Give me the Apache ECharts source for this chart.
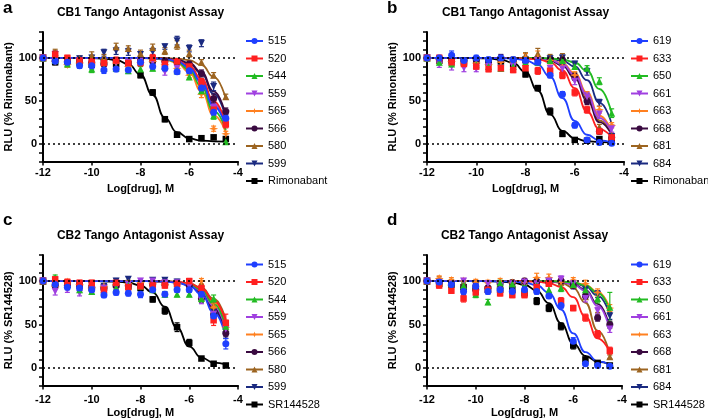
<!DOCTYPE html>
<html><head><meta charset="utf-8">
<script src="https://cdn.jsdelivr.net/npm/echarts@6/dist/echarts.min.js"></script>
<style>html,body{margin:0;padding:0;background:#fff}#c{width:708px;height:420px}</style>
</head><body><div id="c"></div>
<script>
// ---------- DATA ----------
const X = [-12,-11.5,-11,-10.5,-10,-9.5,-9,-8.5,-8,-7.5,-7,-6.5,-6,-5.5,-5,-4.5];
const yLabelVals = [0,50,100];

const namesA = ['515','520','544','559','565','566','580','599','Rimonabant'];
const ptsA = [
 [100,96,95,91,91,86,87,86,95,90,88,84,85,65,37,30],
 [100,104,100,97,96,94,97,94,94,100,93,96,90,72,40,23],
 [100,97,93,95,87,88,88,85,87,88,90,85,78,62,33,3],
 [100,96,97,96,94,93,95,95,96,96,84,88,86,70,42,25],
 [100,96,92,94,93,95,94,90,95,96,92,88,80,58,18,12],
 [100,97,96,95,95,93,97,94,97,96,96,95,93,82,53,38],
 [100,106,97,99,103,101,113,111,105,112,108,115,105,95,80,55],
 [100,104,97,99,100,106,108,107,104,107,113,120,111,117,67,35],
 [100,95,96,95,92,95,93,93,80,60,29,11,6,7,8,6]
];
const errA = [
 [2,3,3,3,4,4,3,4,3,3,3,3,3,4,4,4],
 [2,4,3,3,4,3,4,4,3,4,3,3,4,4,4,4],
 [2,3,3,3,4,3,3,3,3,3,3,3,3,4,4,3],
 [2,3,3,3,3,3,3,3,3,3,4,3,3,4,4,3],
 [2,3,3,3,3,3,3,3,3,3,3,3,3,4,3,3],
 [2,3,3,3,3,3,3,3,3,3,3,3,3,4,5,4],
 [2,4,3,3,4,3,4,3,4,4,4,5,4,3,3,3],
 [2,4,3,3,3,4,4,4,3,4,3,5,4,4,5,4],
 [2,3,3,3,3,3,3,3,3,3,3,2,2,2,2,2]
];
const fitA = [
 [100,100,100,100,100,100,100,100,99.9,99.6,98.8,96.2,88.8,71.5,44.3,20.1],
 [100,100,100,100,100,100,100,100,99.9,99.7,99.0,96.9,90.9,76.0,50.0,24.0],
 [100,100,100,100,100,100,100,99.9,99.8,99.5,98.4,95.2,86.3,66.6,38.7,16.6],
 [100,100,100,100,100,100,100,100,99.9,99.6,98.9,96.6,89.9,73.8,47.1,22.0],
 [100,100,100,100,100,100,100,99.9,99.8,99.4,98.0,94.1,83.4,61.3,33.4,13.7],
 [100,100,100,100,100,100,100,100,100,99.8,99.4,98.0,94.1,83.4,61.3,33.4],
 [100,100,100,100,100,100,100,100,100,99.9,99.7,99.1,97.3,91.8,78.0,52.9],
 [100,100,100,100,100,100,100,100,100,99.8,99.3,97.8,93.4,81.7,58.5,30.9],
 [100,100,100,99.9,99.8,99.2,97.6,92.8,80.5,57.0,30.6,13.9,6.7,4.2,3.4,3.1]
];

const namesB = ['619','633','650','661','663','668','681','684','Rimonabant'];
const ptsB = [
 [100,100,103,97,100,98,100,98,97,95,80,58,22,5,2,1],
 [100,100,95,93,90,87,88,86,88,85,85,80,60,40,15,8],
 [100,95,93,95,92,90,88,90,95,95,97,97,90,88,73,36],
 [100,92,90,88,87,90,88,90,93,97,88,87,73,55,35,18],
 [100,98,96,94,94,92,95,95,100,100,97,95,80,57,40,22],
 [100,98,98,97,98,97,99,97,96,98,98,98,78,50,15,8],
 [100,97,95,96,97,95,100,98,103,105,100,100,79,55,20,10],
 [100,98,97,97,98,96,98,97,98,98,99,100,93,84,48,9],
 [100,97,97,96,97,95,96,93,81,65,38,12,5,4,6,4]
];
const errB = [
 [2,3,5,3,3,3,3,3,3,3,3,3,3,2,2,2],
 [2,3,3,3,3,3,3,3,3,4,4,4,4,4,3,3],
 [2,3,3,3,3,3,3,3,3,3,3,3,3,3,4,5],
 [2,3,4,4,3,3,3,3,3,3,3,3,4,5,5,4],
 [2,3,3,3,3,3,3,3,5,8,4,4,4,4,4,3],
 [2,3,3,3,3,3,5,3,3,3,4,5,4,4,3,3],
 [2,3,3,3,3,3,3,3,3,6,4,5,4,4,3,3],
 [2,3,3,3,3,3,3,3,3,3,3,3,3,4,4,3],
 [2,3,3,3,3,3,3,3,3,3,4,3,2,2,2,2]
];
const fitB = [
 [100,100,100,100,100,99.9,99.7,99.1,97.3,91.9,78.2,53.4,26.9,11.0,4.4,2.1],
 [100,100,100,100,100,100,99.9,99.8,99.4,98.4,94.9,85.4,65.1,37.9,17.6,8.1],
 [100,100,100,100,100,100,100,100,100,99.8,99.4,98.3,94.7,84.9,64.0,36.0],
 [100,100,100,100,100,100,100,99.9,99.8,99.2,97.6,92.8,80.5,57.0,30.6,13.9],
 [100,100,100,100,100,100,100,99.9,99.8,99.3,97.9,93.6,82.2,59.7,33.0,15.0],
 [100,100,100,100,100,100,100,99.9,99.7,99.0,97.0,91.1,76.5,51.0,25.5,10.9],
 [100,100,100,100,100,100,100,99.9,99.7,99.1,97.4,92.0,78.4,53.8,27.7,11.9],
 [100,100,100,100,100,100,100,100,99.9,99.7,98.9,96.7,90.1,74.3,48.2,23.6],
 [100,100,100,99.9,99.8,99.4,98.0,94.2,83.7,62.1,34.7,15.4,6.7,3.5,2.5,2.2]
];

const namesC = ['515','520','544','559','565','566','580','599','SR144528'];
const ptsC = [
 [100,96,93,92,90,84,87,86,85,90,85,90,90,85,60,28],
 [100,102,99,98,98,90,98,93,94,95,95,97,100,92,55,52],
 [100,104,97,90,88,90,92,95,94,90,85,85,85,80,80,48],
 [100,88,90,86,90,92,94,96,100,100,98,98,94,78,62,45],
 [100,94,99,96,92,94,96,97,98,97,96,97,97,100,70,47],
 [100,95,95,95,93,92,95,95,96,96,96,97,95,80,62,40],
 [100,96,97,95,96,93,97,98,97,98,99,97,98,97,72,50],
 [100,97,96,96,95,94,100,102,97,101,101,99,96,88,65,38],
 [100,97,96,96,92,93,96,94,92,79,66,47,29,11,5,3]
];
const errC = [
 [3,4,3,3,4,3,3,3,4,3,3,3,3,4,5,6],
 [3,3,3,3,3,3,3,3,3,3,3,3,3,4,6,10],
 [3,3,3,3,3,3,3,3,3,3,3,3,3,4,4,5],
 [3,4,3,3,3,3,3,3,3,3,3,3,3,4,4,4],
 [3,3,3,3,3,3,3,3,3,3,3,3,3,3,4,4],
 [3,3,3,3,3,3,3,3,3,3,3,3,3,5,4,4],
 [3,3,3,3,3,3,3,3,3,3,3,3,3,3,4,5],
 [3,3,3,3,3,3,3,3,3,3,3,3,3,4,4,4],
 [3,3,3,3,3,3,3,3,3,3,4,5,4,2,2,2]
];
const fitC = [
 [100,100,100,100,100,100,100,100,100,99.8,99.4,98.3,94.7,84.9,64.0,36.0],
 [100,100,100,100,100,100,100,100,100,100,99.7,99.1,97.3,91.8,78.0,52.9],
 [100,100,100,100,100,100,100,100,100,99.9,99.6,98.9,96.6,89.9,73.8,47.1],
 [100,100,100,100,100,100,100,100,100,99.9,99.6,98.8,96.2,88.8,71.5,44.3],
 [100,100,100,100,100,100,100,100,100,99.9,99.7,99.0,96.9,90.9,76.0,50.0],
 [100,100,100,100,100,100,100,100,100,99.9,99.6,98.6,95.7,87.6,69.1,41.5],
 [100,100,100,100,100,100,100,100,100,100,99.7,99.2,97.5,92.6,79.9,55.7],
 [100,100,100,100,100,100,100,100,100,99.8,99.5,98.4,95.2,86.3,66.6,38.7],
 [100,100,100,100,100,99.8,99.3,98.2,95.0,87.0,70.5,46.5,24.7,12.0,6.4,4.2]
];

const namesD = ['619','633','650','661','663','668','681','684','SR144528'];
const ptsD = [
 [100,99,96,88,94,88,90,88,90,88,83,72,31,5,3,2],
 [100,95,89,80,87,90,86,84,84,93,97,77,69,58,39,20],
 [100,98,97,95,85,76,98,97,92,95,90,92,96,90,80,70],
 [100,98,97,100,93,97,95,97,99,97,100,102,97,80,66,45],
 [100,103,101,100,99,98,100,98,99,104,104,99,101,97,87,69],
 [100,98,95,92,90,92,97,98,100,99,98,100,95,83,58,50],
 [100,102,99,97,96,95,96,98,100,100,98,99,95,82,60,13],
 [100,99,93,88,95,90,88,90,97,98,99,98,94,90,85,60],
 [100,97,96,93,92,90,90,90,86,77,69,48,26,10,6,3]
];
const errD = [
 [3,3,3,4,3,3,3,3,3,3,3,3,4,2,2,2],
 [3,3,3,4,3,3,3,3,3,3,3,4,3,4,4,4],
 [3,3,3,3,4,3,3,3,3,3,4,4,3,4,5,17],
 [3,3,3,3,3,3,3,3,3,3,3,4,3,4,4,4],
 [3,3,3,3,3,3,3,3,3,5,4,4,3,4,4,4],
 [3,3,3,3,3,3,3,3,3,3,3,3,3,4,4,4],
 [3,3,3,3,3,3,3,3,3,3,3,3,3,3,4,2],
 [3,3,3,3,3,3,3,3,3,3,3,3,3,4,4,4],
 [3,3,3,3,3,3,3,3,3,4,4,4,4,2,2,2]
];
const fitD = [
 [100,100,100,100,100,99.9,99.8,99.5,98.4,95.3,86.6,67.3,39.9,18.3,7.8,4.0],
 [100,100,100,100,100,100,100,99.9,99.8,99.3,97.7,93.2,81.5,59.2,34.2,18.3],
 [100,100,100,100,100,100,100,100,100,100,99.8,99.5,98.4,95.2,86.3,66.6],
 [100,100,100,100,100,100,100,100,100,99.9,99.6,98.8,96.2,88.8,71.5,44.3],
 [100,100,100,100,100,100,100,100,100,100,99.9,99.6,98.6,95.7,87.6,69.1],
 [100,100,100,100,100,100,100,100,100,99.9,99.6,98.9,96.6,89.9,73.8,47.1],
 [100,100,100,100,100,100,100,100,100,99.9,99.5,98.0,92.3,75.1,43.1,16.0],
 [100,100,100,100,100,100,100,100,100,100,99.8,99.4,98.0,94.1,83.4,61.3],
 [100,100,100,100,100,99.8,99.4,98.4,95.8,89.1,74.6,51.5,28.4,13.9,7.2,4.6]
];

// ---------- STYLE ----------
const colors = ['#1f3fff','#ff2020','#22bb22','#a040e0','#ff8020','#3a0a40','#9c6420','#1a2a80','#000000'];
const star = 'path://M0,-10 L2.5,-2.5 L10,0 L2.5,2.5 L0,10 L-2.5,2.5 L-10,0 L-2.5,-2.5 Z';
const symbols = ['circle','rect','triangle','triangle',star,'circle','triangle','triangle','rect'];
const rotates = [0,0,0,180,0,0,0,180,0];
const sizes = [7,6.5,7,7,9,7,7,7,6.5];
const FONT = 'Liberation Sans, Arial, Helvetica, sans-serif';

const panels = [
 {names:namesA, pts:ptsA, err:errA, fit:fitA, title:'CB1 Tango Antagonist Assay', letter:'a', yName:'RLU (% Rimonabant)',
  grid:{left:43, top:32, width:195, height:129.5}, yGap:28, xMargin:6, legend:{left:245, top:34}, lx:3, ly:8},
 {names:namesB, pts:ptsB, err:errB, fit:fitB, title:'CB1 Tango Antagonist Assay', letter:'b', yName:'RLU (% Rimonabant)',
  grid:{left:427, top:32, width:197, height:129.5}, yGap:23, xMargin:6, legend:{left:630, top:34}, lx:387, ly:8},
 {names:namesC, pts:ptsC, err:errC, fit:fitC, title:'CB2 Tango Antagonist Assay', letter:'c', yName:'RLU (% SR144528)',
  grid:{left:43, top:255, width:195, height:130.5}, yGap:28, xMargin:9, legend:{left:245, top:257.5}, lx:3, ly:220.5},
 {names:namesD, pts:ptsD, err:errD, fit:fitD, title:'CB2 Tango Antagonist Assay', letter:'d', yName:'RLU (% SR144528)',
  grid:{left:427, top:255, width:195, height:130.5}, yGap:26, xMargin:9, legend:{left:630, top:257.5}, lx:387, ly:220.5}
];

const grids=[], xAxes=[], yAxes=[], series=[], legends=[], graphics=[];
panels.forEach((p, pi) => {
  grids.push(Object.assign({containLabel:false}, p.grid));
  xAxes.push({type:'value', gridIndex:pi, min:-12, max:-4, interval:2,
    axisLine:{onZero:false, lineStyle:{color:'#000', width:2}},
    axisTick:{length:4, lineStyle:{color:'#000', width:1.5}},
    axisLabel:{color:'#000', fontWeight:'bold', fontSize:11, fontFamily:FONT, margin:p.xMargin},
    splitLine:{show:false},
    name:'Log[drug], M', nameLocation:'middle', nameGap:22,
    nameTextStyle:{color:'#000', fontWeight:'bold', fontSize:11, fontFamily:FONT}});
  yAxes.push({type:'value', gridIndex:pi, min:-20, max:130, interval:10,
    axisLine:{show:true, onZero:false, lineStyle:{color:'#000', width:2}},
    axisTick:{show:true, length:4, lineStyle:{color:'#000', width:1.5}},
    axisLabel:{color:'#000', fontWeight:'bold', fontSize:11, fontFamily:FONT, margin:6,
      formatter:v => yLabelVals.indexOf(v) >= 0 ? String(v) : ''},
    splitLine:{show:false},
    name:p.yName, nameLocation:'middle', nameGap:p.yGap,
    nameTextStyle:{color:'#000', fontWeight:'bold', fontSize:11, fontFamily:FONT}});
  for (let i = p.names.length - 1; i >= 0; i--) {
    const s = {type:'line', name:p.names[i], xAxisIndex:pi, yAxisIndex:pi,
      data:X.map((x,k)=>[x, p.fit[i][k]]), smooth:0.5, smoothMonotone:'x',
      showSymbol:false, symbol:symbols[i], symbolRotate:rotates[i], symbolSize:sizes[i],
      color:colors[i], lineStyle:{color:colors[i], width:1.8}, itemStyle:{color:colors[i]},
      silent:true, z:2, animation:false};
    if (i === p.names.length - 1) {
      s.markLine = {silent:true, symbol:'none', label:{show:false},
        lineStyle:{type:[2,3], color:'#000', width:1.6},
        data:[{yAxis:100},{yAxis:0}], animation:false};
    }
    series.push(s);
  }
  for (let i = p.names.length - 1; i >= 0; i--) {
    const col = colors[i];
    series.push({type:'custom', name:'err '+p.names[i], xAxisIndex:pi, yAxisIndex:pi, silent:true, z:3, animation:false,
      data:X.map((x,k)=>[x, p.pts[i][k], p.err[i][k]]), encode:{x:0, y:1},
      renderItem:(params, api) => {
        const x = api.value(0), y = api.value(1), e = api.value(2);
        const t = api.coord([x, y + e]), b = api.coord([x, y - e]);
        const hw = 2.5, st = {stroke:col, lineWidth:1.2};
        return {type:'group', children:[
          {type:'line', shape:{x1:t[0], y1:t[1], x2:b[0], y2:b[1]}, style:st},
          {type:'line', shape:{x1:t[0]-hw, y1:t[1], x2:t[0]+hw, y2:t[1]}, style:st},
          {type:'line', shape:{x1:b[0]-hw, y1:b[1], x2:b[0]+hw, y2:b[1]}, style:st}
        ]};
      }});
    series.push({type:'scatter', name:'pts '+p.names[i], xAxisIndex:pi, yAxisIndex:pi, silent:true, z:4, animation:false,
      data:X.map((x,k)=>[x, p.pts[i][k]]), symbol:symbols[i], symbolRotate:rotates[i], symbolSize:sizes[i],
      itemStyle:{color:col, opacity:1}});
  }
  legends.push({orient:'vertical', left:p.legend.left, top:p.legend.top, padding:0,
    itemWidth:17, itemHeight:7.5, itemGap:3.5, selectedMode:false,
    textStyle:{color:'#000', fontSize:11, fontFamily:FONT, lineHeight:14},
    data:p.names.slice()});
  const cx = p.grid.left + p.grid.width/2;
  graphics.push({type:'text', x:cx, y:(pi < 2 ? 12.5 : 235.5), silent:true,
    style:{text:p.title, fill:'#000', font:'bold 12px '+FONT, textAlign:'center', textVerticalAlign:'middle'}});
  graphics.push({type:'text', x:p.lx, y:p.ly, silent:true,
    style:{text:p.letter, fill:'#000', font:'bold 17px '+FONT, textAlign:'left', textVerticalAlign:'middle'}});
});

const chart = echarts.init(document.getElementById('c'), null, {renderer:'canvas'});
chart.setOption({animation:false, backgroundColor:'#fff',
  grid:grids, xAxis:xAxes, yAxis:yAxes, series:series, legend:legends, graphic:graphics});
</script></body></html>
